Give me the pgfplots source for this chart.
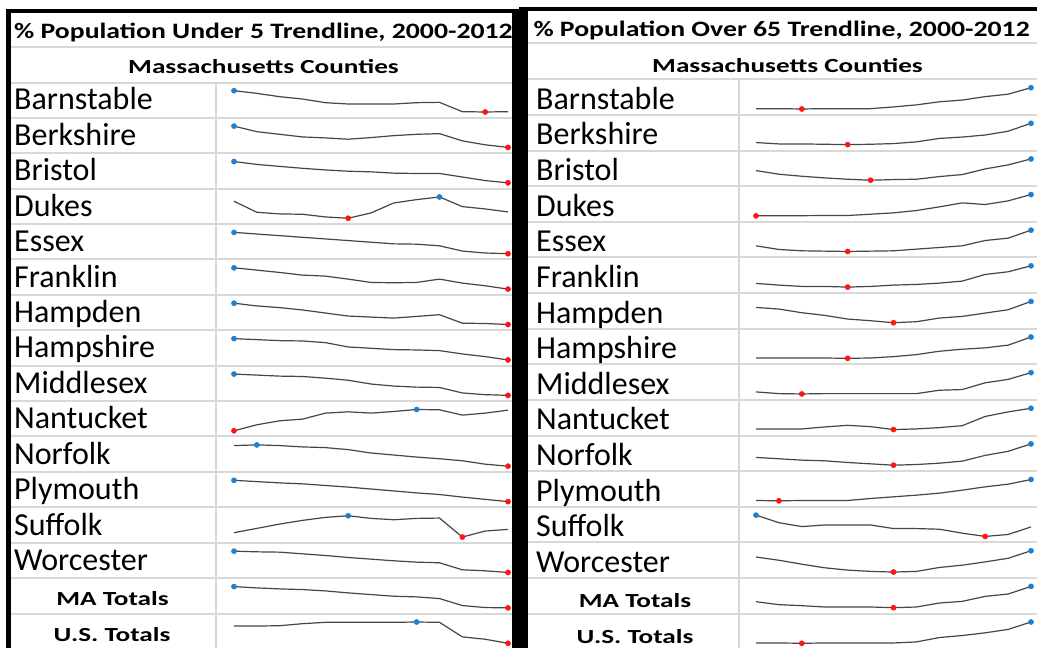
\documentclass[border=0pt]{standalone}
\usepackage{fontspec}
\setmainfont{Carlito}
\usepackage{graphicx}
\usepackage{pgfplots}
\usepackage{pgfplotstable}
\pgfplotsset{compat=1.18}
\definecolor{gridgray}{RGB}{216,216,216}
\definecolor{hiblue}{RGB}{30,128,210}
\definecolor{lored}{RGB}{255,20,20}
\definecolor{sparkgray}{RGB}{70,70,70}

% % Population Under 5 (sparkline readings, relative units)
\pgfplotstableread{
Year Barnstable Berkshire Bristol Dukes Essex Franklin Hampden Hampshire Middlesex Nantucket Norfolk Plymouth Suffolk Worcester MA US
2000 64 65 66 51 65 64 63 64 62 0 61 66 13 64 64 51
2001 56 48 57 18 60 57 55 61 59 18 63 62 26 62 60 51
2002 46 40 51 13 55 50 50 58 56 30 61 58 39 61 57 52
2003 39 32 45 12 50 42 43 57 55 35 57 55 50 56 55 58
2004 28 29 40 4 45 39 34 52 50 53 55 50 59 51 51 62
2005 24 25 36 0 40 30 25 39 44 57 49 45 64 45 45 62
2006 24 30 34 16 35 20 22 35 33 53 39 39 56 40 40 62
2007 24 36 30 46 30 19 19 31 27 58 33 33 52 35 35 62
2008 28 40 29 56 29 20 24 30 24 64 27 27 56 31 33 63
2009 29 42 29 64 24 30 29 28 23 63 22 22 57 29 28 62
2010 1 20 18 35 8 18 4 18 7 47 16 14 0 8 7 19
2011 0 8 7 28 2 10 3 10 2 53 6 7 18 5 1 12
2012 1 0 0 19 0 0 0 0 0 62 0 0 23 0 0 0
}\tabA

% % Population Over 65 (sparkline readings, relative units)
\pgfplotstableread{
Year Barnstable Berkshire Bristol Dukes Essex Franklin Hampden Hampshire Middlesex Nantucket Norfolk Plymouth Suffolk Worcester MA US
2000 1 6 29 0 17 11 46 1 6 2 23 1 65 46 18 1
2001 1 2 18 0.3 6 6 41 1 1 2 19 0 42 36 9 1
2002 0 2 12 0.5 2 2 30 1 0 2 15 1 30 24 6 0
2003 1 1 7 1 1 2 22 1 1 8 13 1 35 13 2 1
2004 1 0 3 1 0 0 11 0 1 13 8 1 35 6 2 1
2005 1 1 0 5 1 2 6 1 1 9 4 7 35 2 2 1
2006 6 3 2 9 2 6 0 5 1 0 0 12 24 0 0 1
2007 12 8 3 16 7 8 3 11 1 2 2 17 24 2 2 4
2008 21 18 11 27 12 12 14 21 11 6 6 23 22 14 14 17
2009 26 22 17 39 17 18 19 27 13 12 12 32 10 21 19 23
2010 36 28 34 34 33 38 29 31 33 40 29 42 0 31 34 31
2011 43 39 46 45 40 46 39 39 43 54 41 50 6 42 41 41
2012 62 62 64 64 64 64 64 63 63 65 63 64 29 65 64 63
}\tabB

% #1 x, #2 y (bottom), #3 width, #4 table, #5 column, #6 max index, #7 min index
\newcommand{\spark}[7]{%
\begin{axis}[at={(#1pt,#2pt)},anchor=south west,width=#3pt,height=21.3pt,
  scale only axis,hide axis,xmin=2000,xmax=2012,enlargelimits=false,clip=false]
\addplot[sparkgray,line width=1.2pt,no marks] table[x=Year,y=#5]{#4};
\addplot[only marks,mark=*,mark size=2.6pt,color=hiblue,mark indices={#6}] table[x=Year,y=#5]{#4};
\addplot[only marks,mark=*,mark size=2.6pt,color=lored,mark indices={#7}] table[x=Year,y=#5]{#4};
\end{axis}}

\newcommand{\hdr}[1]{\scalebox{1.26}[1]{\fontsize{22}{26}\selectfont\bfseries #1}}
\newcommand{\sub}[1]{\scalebox{1.36}[1]{\fontsize{20}{24}\selectfont\bfseries #1}}

\begin{document}
\begin{tikzpicture}
\useasboundingbox (0pt,0pt) rectangle (1037pt,648pt);
\clip (0pt,0pt) rectangle (1037pt,648pt);
\fill[white] (0pt,0pt) rectangle (1037pt,648pt);

% grid lines left
\draw[gridgray,line width=2pt] (11pt,601pt) -- (512pt,601pt);
\draw[gridgray,line width=2pt] (11pt,565.3pt) -- (512pt,565.3pt);
\foreach \k in {0,...,14} {\draw[gridgray,line width=2pt] (11pt,{(530.3-35.42*\k)*1pt}) -- (512pt,{(530.3-35.42*\k)*1pt});}
\draw[gridgray,line width=2pt] (215.5pt,565.3pt) -- (215.5pt,0pt);
% grid lines right
\draw[gridgray,line width=2pt] (528pt,604.5pt) -- (1037pt,604.5pt);
\draw[gridgray,line width=2pt] (528pt,568.5pt) -- (1037pt,568.5pt);
\foreach \k in {0,...,14} {\draw[gridgray,line width=2pt] (528pt,{(533-35.62*\k)*1pt}) -- (1037pt,{(533-35.62*\k)*1pt});}
\draw[gridgray,line width=2pt] (738.5pt,568.5pt) -- (738.5pt,0pt);

% titles
\node[anchor=base west,inner sep=0pt] at (14pt,609.7pt) {\hdr{\% Population Under 5 Trendline, 2000-2012}};
\node[anchor=base west,inner sep=0pt] at (533.3pt,611.3pt) {\hdr{\% Population Over 65 Trendline, 2000-2012}};
\node[anchor=base,inner sep=0pt] at (263.5pt,574pt) {\sub{Massachusetts Counties}};
\node[anchor=base,inner sep=0pt] at (787.5pt,575.3pt) {\sub{Massachusetts Counties}};

% borders
\fill[black] (6pt,0pt) rectangle (11pt,639pt);
\fill[black] (6pt,635pt) rectangle (520pt,639pt);
\fill[black] (512pt,0pt) rectangle (520pt,639pt);
\fill[black] (520pt,637.3pt) rectangle (1037pt,641pt);
\fill[black] (519pt,0pt) rectangle (528pt,641pt);

% row labels
\foreach \n [count=\i from 0] in {Barnstable,Berkshire,Bristol,Dukes,Essex,Franklin,Hampden,Hampshire,Middlesex,Nantucket,Norfolk,Plymouth,Suffolk,Worcester} {
  \node[anchor=base west,inner sep=0pt] at (14pt,{(538-35.42*\i)*1pt}) {\fontsize{32}{38}\selectfont \n};
  \node[anchor=base west,inner sep=0pt] at (536pt,{(538.7-35.62*\i)*1pt}) {\fontsize{32}{38}\selectfont \n};
}
\node[anchor=base,inner sep=0pt] at (112.5pt,42.12pt) {\sub{MA Totals}};
\node[anchor=base,inner sep=0pt] at (112pt,6.7pt) {\sub{U.S. Totals}};
\node[anchor=base,inner sep=0pt] at (635pt,40.02pt) {\sub{MA Totals}};
\node[anchor=base,inner sep=0pt] at (635pt,4.4pt) {\sub{U.S. Totals}};

% left sparklines
\spark{234}{536}{274}{\tabA}{Barnstable}{1}{12}
\spark{234}{500.58}{274}{\tabA}{Berkshire}{1}{13}
\spark{234}{465.16}{274}{\tabA}{Bristol}{1}{13}
\spark{234}{429.74}{274}{\tabA}{Dukes}{10}{6}
\spark{234}{394.32}{274}{\tabA}{Essex}{1}{13}
\spark{234}{358.9}{274}{\tabA}{Franklin}{1}{13}
\spark{234}{323.48}{274}{\tabA}{Hampden}{1}{13}
\spark{234}{288.06}{274}{\tabA}{Hampshire}{1}{13}
\spark{234}{252.64}{274}{\tabA}{Middlesex}{1}{13}
\spark{234}{217.22}{274}{\tabA}{Nantucket}{9}{1}
\spark{234}{181.8}{274}{\tabA}{Norfolk}{2}{13}
\spark{234}{146.38}{274}{\tabA}{Plymouth}{1}{13}
\spark{234}{110.96}{274}{\tabA}{Suffolk}{6}{11}
\spark{234}{75.54}{274}{\tabA}{Worcester}{1}{13}
\spark{234}{40.12}{274}{\tabA}{MA}{1}{13}
\spark{234}{4.7}{274}{\tabA}{US}{9}{13}
% right sparklines
\spark{756}{539}{275}{\tabB}{Barnstable}{13}{3}
\spark{756}{503.38}{275}{\tabB}{Berkshire}{13}{5}
\spark{756}{467.76}{275}{\tabB}{Bristol}{13}{6}
\spark{756}{432.14}{275}{\tabB}{Dukes}{13}{1}
\spark{756}{396.52}{275}{\tabB}{Essex}{13}{5}
\spark{756}{360.9}{275}{\tabB}{Franklin}{13}{5}
\spark{756}{325.28}{275}{\tabB}{Hampden}{13}{7}
\spark{756}{289.66}{275}{\tabB}{Hampshire}{13}{5}
\spark{756}{254.04}{275}{\tabB}{Middlesex}{13}{3}
\spark{756}{218.42}{275}{\tabB}{Nantucket}{13}{7}
\spark{756}{182.8}{275}{\tabB}{Norfolk}{13}{7}
\spark{756}{147.18}{275}{\tabB}{Plymouth}{13}{2}
\spark{756}{111.56}{275}{\tabB}{Suffolk}{1}{11}
\spark{756}{75.94}{275}{\tabB}{Worcester}{13}{7}
\spark{756}{40.32}{275}{\tabB}{MA}{13}{7}
\spark{756}{4.7}{275}{\tabB}{US}{13}{3}
\end{tikzpicture}
\end{document}
